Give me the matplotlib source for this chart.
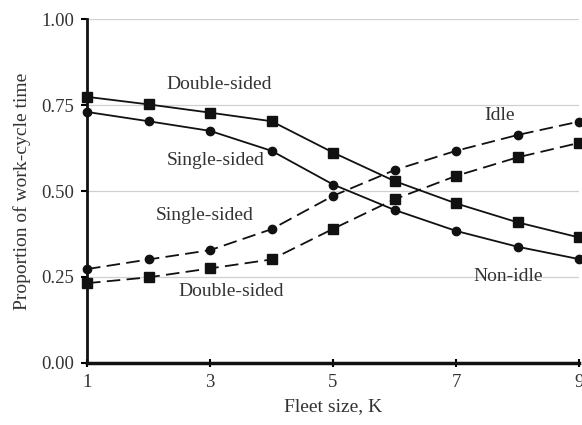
import matplotlib
matplotlib.use('Agg')
import matplotlib.pyplot as plt

fleet = [1, 2, 3, 4, 5, 6, 7, 8, 9]

# non-idle shares (solid lines)
nonidle_double = [0.774, 0.752, 0.728, 0.703, 0.612, 0.529, 0.464, 0.409, 0.365]
nonidle_single = [0.730, 0.703, 0.675, 0.617, 0.519, 0.445, 0.384, 0.338, 0.302]
# idle shares (dashed lines)
idle_single = [0.273, 0.301, 0.328, 0.389, 0.486, 0.561, 0.617, 0.663, 0.702]
idle_double = [0.232, 0.249, 0.275, 0.301, 0.390, 0.476, 0.544, 0.598, 0.640]

yticks = [0.0, 0.25, 0.5, 0.75, 1.0]
xticks = [1, 3, 5, 7, 9]

plt.rcParams['font.family'] = ['Liberation Serif', 'DejaVu Serif']
fs = 14

fig = plt.figure(figsize=(5.82, 4.25), dpi=100)
ax = fig.add_axes([0.1495, 0.146, 0.8455, 0.809])

ax.set_xlim(1, 9)
ax.set_ylim(0, 1)
ax.set_yticks(yticks)
ax.set_yticklabels([f'{v:.2f}' for v in yticks])
ax.set_xticks(xticks)

for v in yticks[1:]:
    ax.axhline(v, color='#d0d0d0', lw=0.9, zorder=0)

lk = dict(color='#111111', lw=1.3, clip_on=False, zorder=3)
ax.plot(fleet, nonidle_double, '-', marker='s', ms=7, **lk)
ax.plot(fleet, nonidle_single, '-', marker='o', ms=6, **lk)
ax.plot(fleet, idle_single, '--', marker='o', ms=6, dashes=(7.5, 3.5), **lk)
ax.plot(fleet, idle_double, '--', marker='s', ms=7, dashes=(7.5, 3.5), **lk)

tc = '#333333'
ax.text(3.15, 0.811, 'Double-sided', ha='center', va='center', fontsize=fs, color=tc)
ax.text(3.1, 0.588, 'Single-sided', ha='center', va='center', fontsize=fs, color=tc)
ax.text(2.92, 0.430, 'Single-sided', ha='center', va='center', fontsize=fs, color=tc)
ax.text(3.34, 0.209, 'Double-sided', ha='center', va='center', fontsize=fs, color=tc)
ax.text(7.7, 0.721, 'Idle', ha='center', va='center', fontsize=fs, color=tc)
ax.text(7.85, 0.250, 'Non-idle', ha='center', va='center', fontsize=fs, color=tc)

for s in ['top', 'right']:
    ax.spines[s].set_visible(False)
ax.spines['left'].set_linewidth(2.0)
ax.spines['bottom'].set_linewidth(2.5)
ax.spines['left'].set_color('#111111')
ax.spines['bottom'].set_color('#111111')

ax.tick_params(axis='y', direction='out', length=4, width=1.5, labelsize=13.5, labelcolor=tc, pad=5)
ax.tick_params(axis='x', direction='inout', length=6, width=1.5, labelsize=13.5, labelcolor=tc, pad=5)

ax.set_xlabel('Fleet size, K', fontsize=fs, color=tc, labelpad=5)
ax.set_ylabel('Proportion of work-cycle time', fontsize=fs, color=tc, labelpad=8)

fig.savefig('out.png', dpi=100)
